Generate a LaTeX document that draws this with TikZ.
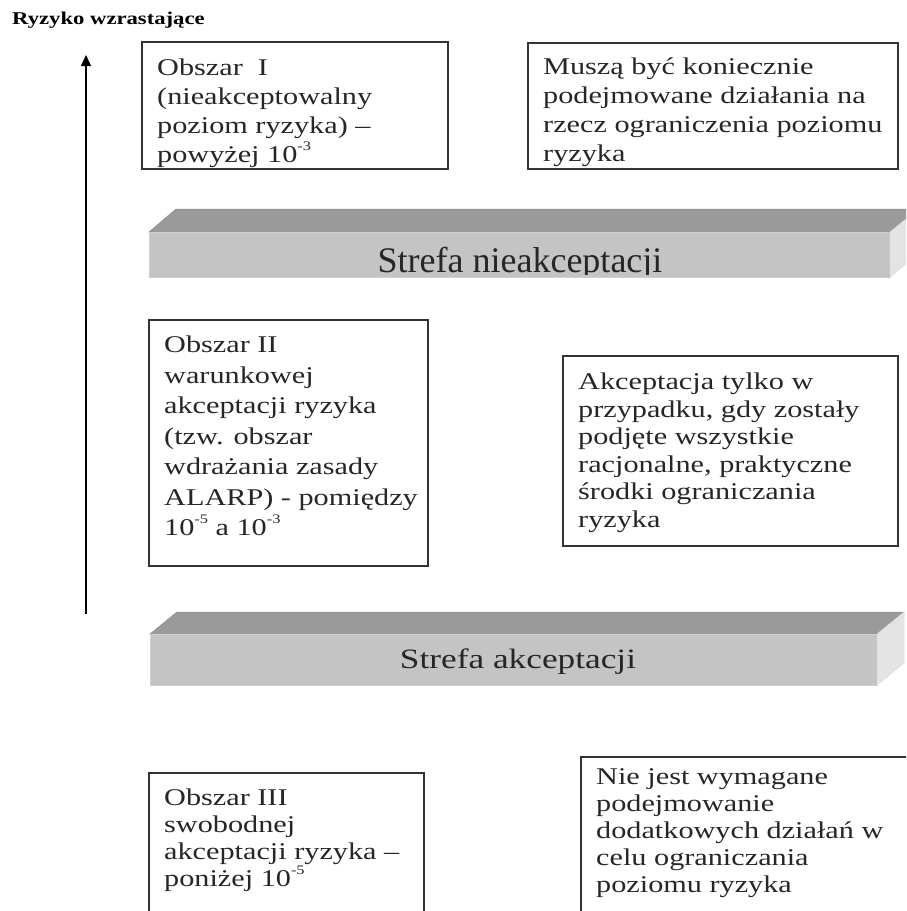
\documentclass[tikz,border=0pt]{standalone}
\usepackage{fontspec}
\setmainfont{Liberation Serif}[FakeStretch=1.26]
\newfontfamily\barfont{Liberation Serif}
\usetikzlibrary{arrows.meta}
\definecolor{topface}{HTML}{9A9A9A}
\definecolor{frontface}{HTML}{C4C4C4}
\definecolor{sideface}{HTML}{E4E4E4}
\definecolor{boxline}{HTML}{333333}
\definecolor{txtcol}{HTML}{262626}
\newcommand{\expo}[1]{\raisebox{0.5em}{\fontsize{13}{13}\selectfont #1}}
\begin{document}
\begin{tikzpicture}[x=1pt,y=-1pt,
  frame/.style={draw=boxline, line width=1.6pt},
  txt/.style={anchor=north west, align=left, inner sep=0pt, text=txtcol},
  topf/.style={fill=topface, draw=topface!90!black, line width=0.5pt},
  frontf/.style={fill=frontface, draw=frontface!80!white, line width=0.8pt},
  sidef/.style={fill=sideface, draw=sideface!95!black, line width=0.5pt},
  bartxt/.style={anchor=base, inner sep=0pt, text=black!85}]
\clip (0,0) rectangle (906,911);
\fill[white] (0,0) rectangle (906,911);

% title and arrow
\node[anchor=base west, inner sep=0pt, font=\bfseries\fontsize{18}{20}\selectfont] (title) at (12,24) {Ryzyko wzrastające};
\coordinate (abot) at (86,614);
\coordinate (atop) at (86,55);
\draw[line width=1.4pt, -{Triangle[length=11pt,width=10pt]}] (abot) -- (atop);

% Area I
\draw[frame] (142,42) rectangle (448,169);
\node[txt, font=\fontsize{24}{29}\selectfont] (t1) at (157,55)
  {\strut Obszar\ \ I\\(nieakceptowalny\\poziom ryzyka) –\\powyżej 10\expo{-3}};
\draw[frame] (528,43) rectangle (898,169);
\node[txt, font=\fontsize{24}{29}\selectfont] (t1r) at (543,54)
  {\strut Muszą być koniecznie\\podejmowane działania na\\rzecz ograniczenia poziomu\\ryzyka};

% bar 1
\fill[topf] (149,232) -- (176,209) -- (918,209) -- (890,232) -- cycle;
\fill[frontf] (149,232) rectangle (890,277);
\draw[frontf] (149,232) rectangle (890,277);
\fill[sidef] (890,232) -- (918,209) -- (918,254) -- (890,277) -- cycle;
\begin{scope}
\clip (149,232) rectangle (890,274);
\node[bartxt, font=\barfont\fontsize{36}{40}\selectfont] (bar1) at (520,272) {Strefa nieakceptacji};
\end{scope}

% Area II
\draw[frame] (149,320) rectangle (428,566);
\node[txt, font=\fontsize{24}{30.5}\selectfont] (t2) at (164,331)
  {\strut Obszar II\\warunkowej\\akceptacji ryzyka\\(tzw. obszar\\wdrażania zasady\\ALARP) - pomiędzy\\10\expo{-5} a 10\expo{-3}};
\draw[frame] (563,356) rectangle (898,546);
\node[txt, font=\fontsize{24}{27.6}\selectfont] (t2r) at (578,370)
  {\strut Akceptacja tylko w\\przypadku, gdy zostały\\podjęte wszystkie\\racjonalne, praktyczne\\środki ograniczania\\ryzyka};

% bar 2
\fill[topf] (150,634) -- (177,612) -- (904,612) -- (877,634) -- cycle;
\fill[frontf] (150,634) rectangle (877,685);
\draw[frontf] (150,634) rectangle (877,685);
\fill[sidef] (877,634) -- (904,612) -- (904,663) -- (877,685) -- cycle;
\node[bartxt, font=\fontsize{28}{30}\selectfont] (bar2) at (518,668) {Strefa akceptacji};

% Area III
\draw[frame] (149,920) -- (149,773) -- (424,773) -- (424,920);
\node[txt, font=\fontsize{24}{27}\selectfont] (t3) at (164,786)
  {\strut Obszar III\\swobodnej\\akceptacji ryzyka –\\poniżej 10\expo{-5}};
\draw[frame] (581,920) -- (581,757) -- (912,757);
\node[txt, font=\fontsize{24}{27}\selectfont] (t3r) at (596,765)
  {\strut Nie jest wymagane\\podejmowanie\\dodatkowych działań w\\celu ograniczania\\poziomu ryzyka};
\end{tikzpicture}
\end{document}
